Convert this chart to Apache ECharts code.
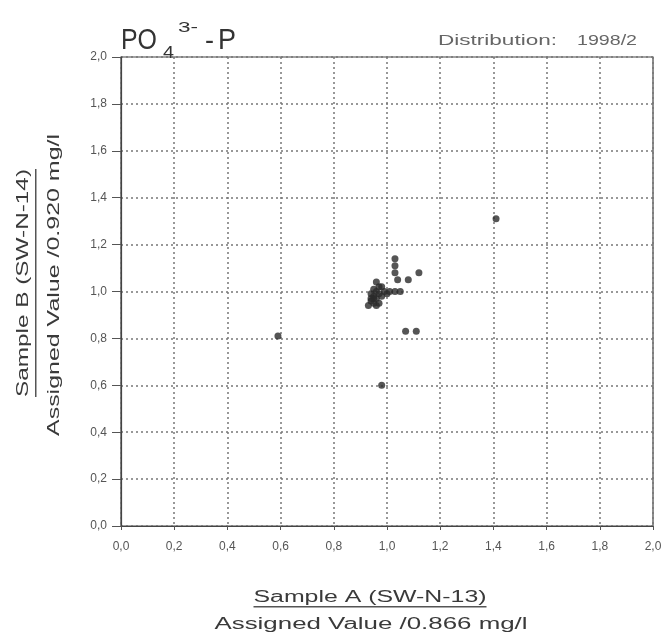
<!DOCTYPE html>
<html><head><meta charset="utf-8">
<script src="https://cdn.jsdelivr.net/npm/echarts@6/dist/echarts.min.js"></script>
<style>html,body{margin:0;padding:0;background:#fff}#c{width:666px;height:639px}</style>
</head><body><div id="c"></div>
<script>
const sampleA = [0.59,0.98,1.07,1.11,1.41,
  0.93,0.94,0.95,0.96,0.97,0.95,0.96,0.97,0.96,0.98,0.99,1.00,1.01,1.03,1.05,0.94,0.98,0.95,0.97,0.95,0.96,0.94,
  1.03,1.03,1.03,1.04,1.08,1.12];
const sampleB = [0.81,0.60,0.83,0.83,1.31,
  0.94,0.96,0.95,0.94,0.95,0.98,1.00,1.02,1.04,0.98,1.00,0.99,1.00,1.00,1.00,0.99,1.02,0.97,0.99,1.01,0.97,0.97,
  1.14,1.11,1.08,1.05,1.05,1.08];
const tickLabels = ['0,0','0,2','0,4','0,6','0,8','1,0','1,2','1,4','1,6','1,8','2,0'];
const xTitle1 = 'Sample A (SW-N-13)';
const xTitle2 = 'Assigned Value /0.866 mg/l';
const yTitle1 = 'Sample B (SW-N-14)';
const yTitle2 = 'Assigned Value /0.920 mg/l';
const distLabel = 'Distribution:';
const distValue = '1998/2';

const FONT = '"Liberation Sans", Arial, sans-serif';
const TXT = '#555';
const TITLE = '#3a3a3a';
const ctx = document.createElement('canvas').getContext('2d');
function measure(t, size){ ctx.font = size + 'px ' + FONT; return ctx.measureText(t).width; }
const chart = echarts.init(document.getElementById('c'));
const GL = 121, GR = 13, GT = 57, GB = 113;
const fmt = v => tickLabels[Math.round(v/0.2)];
const wx1 = 233, wy1 = 228;
// baseline-positioned text: top = baseline - 0.77*size
function scaled(t,size,target,x,base,fill){
  return {type:'text', x:x, y:base-0.77*size, scaleX: target/measure(t,size),
    style:{text:t,font:size+'px '+FONT,fill:fill||'#444',align:'left',verticalAlign:'top'}};
}
chart.setOption({
  animation:false,
  grid:{left:GL,right:GR,top:GT,bottom:GB,show:true,borderColor:'#444',borderWidth:1.2},
  xAxis:{type:'value',min:0,max:2,interval:0.2,
    axisLine:{lineStyle:{color:'#444',width:1.2}},
    axisTick:{show:true,length:4,lineStyle:{color:'#555'}},
    axisLabel:{formatter:fmt,color:TXT,fontSize:12,fontFamily:FONT,margin:15},
    splitLine:{lineStyle:{color:'#777',type:[2,3],width:1.5}}},
  yAxis:{type:'value',min:0,max:2,interval:0.2,
    axisLine:{show:true,lineStyle:{color:'#444',width:1.2}},
    axisTick:{show:true,length:9,lineStyle:{color:'#555'}},
    axisLabel:{formatter:fmt,color:TXT,fontSize:12,fontFamily:FONT,margin:14},
    splitLine:{lineStyle:{color:'#777',type:[2,3],width:1.5}}},
  series:[{type:'scatter',symbolSize:7,itemStyle:{color:'#2b2b2b'},
    data:sampleA.map((x,i)=>[x,sampleB[i]])}],
  graphic:[
    scaled('PO',30,36,121,49,'#333'),
    scaled('4',17,11,163,58,'#333'),
    scaled('3-',14,20,178,32,'#333'),
    scaled('-',28,9,205,49,'#333'),
    scaled('P',30,18,218,49,'#333'),
    scaled(distLabel,15,119,438,45,'#666'),
    scaled(distValue,15,60,577,45,'#666'),
    {type:'text',x:370,y:598,scaleX:wx1/measure(xTitle1,16),style:{text:xTitle1,font:'16px '+FONT,fill:TITLE,align:'center',verticalAlign:'middle'}},
    {type:'rect',shape:{x:370-wx1/2,y:606,width:wx1,height:1.5},style:{fill:'#555'}},
    {type:'text',x:371,y:625,scaleX:313/measure(xTitle2,16),style:{text:xTitle2,font:'16px '+FONT,fill:TITLE,align:'center',verticalAlign:'middle'}},
    {type:'group',x:0,y:283,rotation:Math.PI/2,children:[
      {type:'text',x:0,y:24,scaleX:wy1/measure(yTitle1,16),style:{text:yTitle1,font:'16px '+FONT,fill:TITLE,align:'center',verticalAlign:'middle'}},
      {type:'rect',shape:{x:-wy1/2,y:35,width:wy1,height:1.5},style:{fill:'#555'}},
      {type:'text',x:-2,y:55,scaleX:302/measure(yTitle2,16),style:{text:yTitle2,font:'16px '+FONT,fill:TITLE,align:'center',verticalAlign:'middle'}}
    ]}
  ]
});
</script></body></html>
